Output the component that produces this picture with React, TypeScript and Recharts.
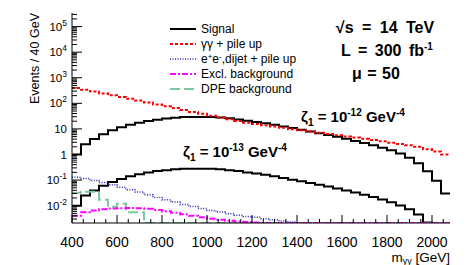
import React from "react";
import { ComposedChart, Line, XAxis, YAxis } from "recharts";

// 40 GeV bins, low edges; the last bin closes at BIN_END
const BIN_LOW = [
  400, 440, 480, 520, 560, 600, 640, 680, 720, 760, 800, 840, 880, 920, 960,
  1000, 1040, 1080, 1120, 1160, 1200, 1240, 1280, 1320, 1360, 1400, 1440, 1480,
  1520, 1560, 1600, 1640, 1680, 1720, 1760, 1800, 1840, 1880, 1920, 1960, 2000,
  2040,
];
const BIN_END = 2080;

// zeta_1 = 1e-12 GeV^-4
const SIGNAL_12 = [
  1.0, 2.5, 4.0, 6.2, 8.8, 11.5, 14.5, 17.5, 20.5, 23, 25.5, 27.5, 29, 29.5,
  29.5, 29, 28, 26, 23.5, 21, 18.5, 16.5, 14.5, 12.5, 10.8, 9.3, 8.0, 6.8, 5.8,
  4.9, 4.1, 3.4, 2.8, 2.3, 1.85, 1.45, 1.1, 0.75, 0.45, 0.22, 0.095, 0.03,
];
// zeta_1 = 1e-13 GeV^-4
const SIGNAL_13 = [
  0.01, 0.025, 0.039, 0.06, 0.085, 0.11, 0.14, 0.17, 0.2, 0.225, 0.245, 0.265,
  0.275, 0.28, 0.28, 0.275, 0.265, 0.245, 0.225, 0.2, 0.18, 0.16, 0.14, 0.12,
  0.104, 0.09, 0.077, 0.066, 0.056, 0.047, 0.039, 0.033, 0.027, 0.022, 0.0175,
  0.0135, 0.0102, 0.0072, 0.0045, 0.0022, 0.001, 0.0003,
];
const GG_PILEUP = [
  400, 340, 290, 245, 208, 178, 152, 128, 108, 91, 77, 65, 55, 46, 39, 33, 28,
  24, 20.5, 17.5, 15.5, 13.8, 12.3, 11, 9.8, 8.8, 7.9, 7.1, 6.4, 5.7, 5.1, 4.6,
  4.1, 3.7, 3.3, 2.9, 2.6, 2.3, 2.0, 1.6, 1.3, 1.0,
];
const EE_DIJET = [
  0.13, 0.115, 0.097, 0.08, 0.065, 0.052, 0.042, 0.034, 0.027, 0.021, 0.017,
  0.0138, 0.0112, 0.0092, 0.0077, 0.0065, 0.0056, 0.0048, 0.0042, 0.0038,
  0.0035, 0.0031, 0.0028, 0.0025, 0.0023, 0, 0, 0, 0, 0, 0, 0, 0, 0, 0, 0, 0, 0,
  0, 0, 0, 0,
];
const EXCL_BKG = [
  0.004, 0.0055, 0.0065, 0.0072, 0.0077, 0.008, 0.0081, 0.0079, 0.0075, 0.0068,
  0.006, 0.0053, 0.0046, 0.004, 0.0035, 0.0031, 0.0028, 0.0026, 0.0024, 0.0023,
  0.0022, 0, 0, 0, 0, 0, 0, 0, 0, 0, 0, 0, 0, 0, 0, 0, 0, 0, 0, 0, 0, 0,
];
const DPE_BKG = [
  0.032, 0.035, 0.035, 0.017, 0.009, 0.012, 0.0055, 0.0055, 0, 0, 0, 0, 0, 0, 0,
  0, 0, 0, 0, 0, 0, 0, 0, 0, 0, 0, 0, 0, 0, 0, 0, 0, 0, 0, 0, 0, 0, 0, 0, 0, 0,
  0,
];

const X_LABELS = [400, 600, 800, 1000, 1200, 1400, 1600, 1800, 2000];
const Y_MAJOR = [0.01, 0.1, 1, 10, 100, 1000, 10000, 100000];
const Y_MIN = 0.0021;
const Y_MAX = 340000;

const FONT = "'Liberation Sans', Arial, Helvetica, sans-serif";

// ROOT-like minor ticks
const X_TICKS: number[] = [];
for (let v = 400; v < BIN_END; v += 50) X_TICKS.push(v);
const Y_TICKS: number[] = [...Y_MAJOR];
for (let d = 0.001; d < Y_MAX; d *= 10) {
  for (let k = 2; k <= 9; k++) {
    const v = +(d * k).toPrecision(3);
    if (v > Y_MIN && v < Y_MAX) Y_TICKS.push(v);
  }
}

// empty bins sit on the bottom of the frame, as ROOT draws them on log axes
const floor = (v: number) => (v > 0 ? v : Y_MIN);

const rows = [...BIN_LOW, BIN_END].map((m, idx) => {
  const i = Math.min(idx, BIN_LOW.length - 1);
  return {
    m,
    s12: SIGNAL_12[i],
    s13: SIGNAL_13[i],
    gg: GG_PILEUP[i],
    ee: floor(EE_DIJET[i]),
    excl: floor(EXCL_BKG[i]),
    dpe: floor(DPE_BKG[i]),
  };
});

const isMajorY = (v: number) => Y_MAJOR.includes(v);

const YTickLeft = (props: any) => {
  const { x, y, payload } = props;
  const v = payload.value as number;
  const major = isMajorY(v);
  const k = Math.round(Math.log10(v));
  return (
    <g>
      <line x1={x} x2={x + (major ? 10 : 5)} y1={y} y2={y} stroke="#000" />
      {major && (
        <text
          x={x - 5}
          y={y + 4}
          textAnchor="end"
          fontFamily={FONT}
          fontSize={11.5}
          fill="#000"
        >
          {k === 0 ? (
            "1"
          ) : k === 1 ? (
            "10"
          ) : (
            <>
              10
              <tspan dy={-5} fontSize={8.5}>
                {k}
              </tspan>
            </>
          )}
        </text>
      )}
    </g>
  );
};

const YTickRight = (props: any) => {
  const { x, y, payload } = props;
  const len = isMajorY(payload.value) ? 10 : 5;
  return <line x1={x - len} x2={x} y1={y} y2={y} stroke="#000" />;
};

const XTickBottom = (props: any) => {
  const { x, y, payload } = props;
  const major = X_LABELS.includes(payload.value);
  return (
    <g>
      <line x1={x} x2={x} y1={y - (major ? 8 : 4)} y2={y} stroke="#000" />
      {major && (
        <text
          x={x}
          y={y + 24}
          textAnchor="middle"
          fontFamily={FONT}
          fontSize={14}
          fill="#000"
        >
          {payload.value}
        </text>
      )}
    </g>
  );
};

const XTickTop = (props: any) => {
  const { x, y, payload } = props;
  const len = X_LABELS.includes(payload.value) ? 8 : 4;
  return <line x1={x} x2={x} y1={y} y2={y + len} stroke="#000" />;
};

const LEGEND = [
  { label: "Signal", color: "#000", dash: undefined, width: 2 },
  { label: "gg", color: "#ff0000", dash: "3 2", width: 2 },
  { label: "ee", color: "#2a2ab8", dash: "1 1.5", width: 1.5 },
  { label: "Excl. background", color: "#ff00ff", dash: "6 2 2 2", width: 2 },
  { label: "DPE background", color: "#7fc7a0", dash: "10 4", width: 2 },
];

const legendText = (label: string) => {
  if (label === "gg") return <>γγ + pile up</>;
  if (label === "ee")
    return (
      <>
        e<tspan dy={-4} fontSize={8}>+</tspan>
        <tspan dy={4}>e</tspan>
        <tspan dy={-4} fontSize={8}>-</tspan>
        <tspan dy={4}>,dijet + pile up</tspan>
      </>
    );
  return <>{label}</>;
};

const Sup = ({ children }: { children: React.ReactNode }) => (
  <tspan dy={-6} fontSize={10}>
    {children}
  </tspan>
);

const Overlay: React.FC = () => (
  <svg
    width={473}
    height={265}
    style={{ position: "absolute", left: 0, top: 0, pointerEvents: "none" }}
  >
    {/* legend */}
    {LEGEND.map((e, i) => {
      const y = 29 + i * 15;
      return (
        <g key={e.label}>
          <line
            x1={170}
            x2={196}
            y1={y}
            y2={y}
            stroke={e.color}
            strokeWidth={e.width}
            strokeDasharray={e.dash}
          />
          <text x={201} y={y + 4} fontFamily={FONT} fontSize={12} fill="#000">
            {legendText(e.label)}
          </text>
        </g>
      );
    })}

    {/* run conditions */}
    <g fontFamily={FONT} fontWeight="bold" fill="#000">
      <text x={385} y={33} textAnchor="middle" fontSize={16} wordSpacing={4}>
        √s = 14 TeV
      </text>
      <text x={387} y={56} textAnchor="middle" fontSize={16} wordSpacing={3}>
        L = 300 fb<Sup>-1</Sup>
      </text>
      <text x={376} y={79} textAnchor="middle" fontSize={16} wordSpacing={1}>
        μ = 50
      </text>
      <g fontSize={15}>
        <text x={301} y={122}>
          ζ<tspan dy={4} fontSize={10}>1</tspan>
          <tspan dy={-4}> = 10</tspan>
          <Sup>-12</Sup>
          <tspan dy={6}> GeV</tspan>
          <Sup>-4</Sup>
        </text>
        <text x={183} y={157}>
          ζ<tspan dy={4} fontSize={10}>1</tspan>
          <tspan dy={-4}> = 10</tspan>
          <Sup>-13</Sup>
          <tspan dy={6}> GeV</tspan>
          <Sup>-4</Sup>
        </text>
      </g>
    </g>

    {/* axis titles */}
    <text
      x={39}
      y={13}
      transform="rotate(-90 39 13)"
      textAnchor="end"
      fontFamily={FONT}
      fontSize={12.5}
      fill="#000"
    >
      Events / 40 GeV
    </text>
    <text
      x={450}
      y={262}
      textAnchor="end"
      fontFamily={FONT}
      fontSize={13.5}
      fill="#000"
    >
      m<tspan dy={2} fontSize={9}>γγ</tspan>
      <tspan dy={-2}> [GeV]</tspan>
    </text>
  </svg>
);

const App: React.FC = () => (
  <div
    style={{
      position: "absolute",
      left: 0,
      top: 0,
      width: 473,
      height: 265,
      background: "#fff",
    }}
  >
    <ComposedChart
      width={473}
      height={265}
      data={rows}
      margin={{ top: 13, right: 23, bottom: 0, left: 0 }}
    >
      <XAxis
        xAxisId="b"
        type="number"
        dataKey="m"
        domain={[400, BIN_END]}
        ticks={X_TICKS}
        interval={0}
        allowDataOverflow
        height={42}
        tickSize={0}
        tickMargin={0}
        tickLine={false}
        axisLine={{ stroke: "#000" }}
        tick={(p: any) => <XTickBottom {...p} />}
      />
      <XAxis
        xAxisId="t"
        orientation="top"
        type="number"
        dataKey="m"
        domain={[400, BIN_END]}
        ticks={X_TICKS}
        interval={0}
        allowDataOverflow
        height={0}
        tickSize={0}
        tickMargin={0}
        tickLine={false}
        axisLine={{ stroke: "#000" }}
        tick={(p: any) => <XTickTop {...p} />}
      />
      <YAxis
        yAxisId="l"
        scale="log"
        domain={[Y_MIN, Y_MAX]}
        ticks={Y_TICKS}
        interval={0}
        allowDataOverflow
        width={72}
        tickSize={0}
        tickMargin={0}
        tickLine={false}
        axisLine={{ stroke: "#000" }}
        tick={(p: any) => <YTickLeft {...p} />}
      />
      <YAxis
        yAxisId="r"
        orientation="right"
        scale="log"
        domain={[Y_MIN, Y_MAX]}
        ticks={Y_TICKS}
        interval={0}
        allowDataOverflow
        width={0}
        tickSize={0}
        tickMargin={0}
        tickLine={false}
        axisLine={{ stroke: "#000" }}
        tick={(p: any) => <YTickRight {...p} />}
      />

      {/* keeps the mirrored axes tied to the same data */}
      <Line
        xAxisId="t"
        yAxisId="r"
        dataKey="s12"
        stroke="none"
        dot={false}
        activeDot={false}
        legendType="none"
        isAnimationActive={false}
      />

      <Line
        xAxisId="b"
        yAxisId="l"
        type="stepAfter"
        dataKey="s12"
        stroke="#000"
        strokeWidth={2}
        dot={false}
        isAnimationActive={false}
      />
      <Line
        xAxisId="b"
        yAxisId="l"
        type="stepAfter"
        dataKey="s13"
        stroke="#000"
        strokeWidth={2}
        dot={false}
        isAnimationActive={false}
      />
      <Line
        xAxisId="b"
        yAxisId="l"
        type="stepAfter"
        dataKey="gg"
        stroke="#ff0000"
        strokeWidth={2}
        strokeDasharray="3 2"
        dot={false}
        isAnimationActive={false}
      />
      <Line
        xAxisId="b"
        yAxisId="l"
        type="stepAfter"
        dataKey="ee"
        stroke="#2a2ab8"
        strokeWidth={1.5}
        strokeDasharray="1 1.5"
        dot={false}
        isAnimationActive={false}
      />
      <Line
        xAxisId="b"
        yAxisId="l"
        type="stepAfter"
        dataKey="dpe"
        stroke="#7fc7a0"
        strokeWidth={2}
        strokeDasharray="10 4"
        dot={false}
        isAnimationActive={false}
      />
      <Line
        xAxisId="b"
        yAxisId="l"
        type="stepAfter"
        dataKey="excl"
        stroke="#ff00ff"
        strokeWidth={2}
        strokeDasharray="6 2 2 2"
        dot={false}
        isAnimationActive={false}
      />
    </ComposedChart>
    <Overlay />
  </div>
);

export default App;
